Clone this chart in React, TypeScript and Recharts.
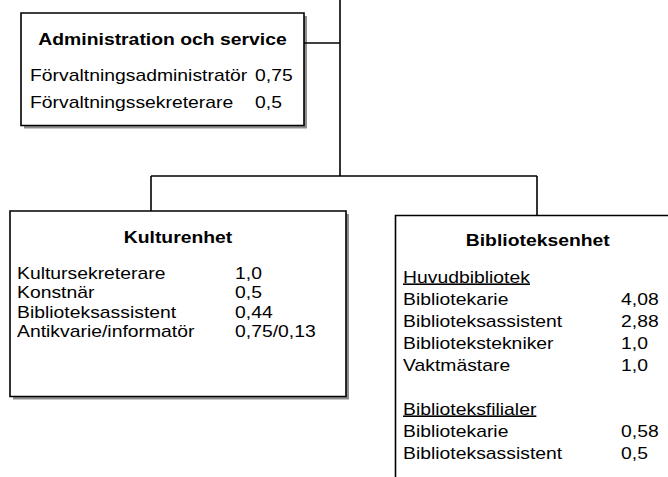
import React from "react";
import {
  ComposedChart,
  XAxis,
  YAxis,
  ReferenceArea,
  ReferenceLine,
} from "recharts";

// units and their staffing (FTE)
const adminTitle = "Administration och service";
const adminRoles = ["Förvaltningsadministratör", "Förvaltningssekreterare"];
const adminFte = ["0,75", "0,5"];

const kulturTitle = "Kulturenhet";
const kulturRoles = [
  "Kultursekreterare",
  "Konstnär",
  "Biblioteksassistent",
  "Antikvarie/informatör",
];
const kulturFte = ["1,0", "0,5", "0,44", "0,75/0,13"];

const biblioTitle = "Biblioteksenhet";
const huvudHeading = "Huvudbibliotek";
const huvudRoles = [
  "Bibliotekarie",
  "Biblioteksassistent",
  "Bibliotekstekniker",
  "Vaktmästare",
];
const huvudFte = ["4,08", "2,88", "1,0", "1,0"];
const filialHeading = "Biblioteksfilialer";
const filialRoles = ["Bibliotekarie", "Biblioteksassistent"];
const filialFte = ["0,58", "0,5"];

// layout (chart units == pixels)
const W = 668;
const H = 477;
const SX = 1.21;
const FONT = "'Liberation Sans', Arial, Helvetica, sans-serif";
const SHADOW = 3;

type Row = { label: string; value?: string; heading?: boolean };

const T = ({
  x,
  y,
  text,
  bold,
  anchor,
  underline,
}: {
  x: number;
  y: number;
  text: string;
  bold?: boolean;
  anchor?: "start" | "middle" | "end";
  underline?: boolean;
}) => (
  <text
    transform={`translate(${x},${y}) scale(${SX},1)`}
    textAnchor={anchor || "start"}
    fontFamily={FONT}
    fontSize={16}
    fontWeight={bold ? "bold" : "normal"}
    textDecoration={underline ? "underline" : undefined}
    fill="#000"
  >
    {text}
  </text>
);

const boxLabel =
  (
    title: string,
    rows: Row[],
    o: { titleY: number; rowY: number; step: number; pad: number; valX: number }
  ) =>
  (props: any) => {
    const vb = props.viewBox || {};
    const x = vb.x || 0;
    const y = vb.y || 0;
    const w = vb.width || 0;
    return (
      <g>
        <T x={x + w / 2} y={y + o.titleY} text={title} bold anchor="middle" />
        {rows.map((r, i) =>
          r.label === "" ? null : (
            <g key={i}>
              <T
                x={x + o.pad}
                y={y + o.rowY + i * o.step}
                text={r.label}
                underline={r.heading}
              />
              {r.value && (
                <T x={x + o.valX} y={y + o.rowY + i * o.step} text={r.value} />
              )}
            </g>
          )
        )}
      </g>
    );
  };

const adminRows: Row[] = adminRoles.map((r, i) => ({ label: r, value: adminFte[i] }));
const kulturRows: Row[] = kulturRoles.map((r, i) => ({ label: r, value: kulturFte[i] }));
const biblioRows: Row[] = [
  { label: huvudHeading, heading: true },
  ...huvudRoles.map((r, i) => ({ label: r, value: huvudFte[i] })),
  { label: "" },
  { label: filialHeading, heading: true },
  ...filialRoles.map((r, i) => ({ label: r, value: filialFte[i] })),
];

const boxes = [
  {
    key: "admin",
    x1: 21,
    x2: 304,
    y1: 13,
    y2: 125.5,
    shadow: true,
    label: boxLabel(adminTitle, adminRows, { titleY: 31.5, rowY: 68, step: 27, pad: 9, valX: 234 }),
  },
  {
    key: "kultur",
    x1: 10,
    x2: 346,
    y1: 211,
    y2: 396.5,
    shadow: true,
    label: boxLabel(kulturTitle, kulturRows, { titleY: 31.5, rowY: 67.5, step: 19.5, pad: 7, valX: 225 }),
  },
  {
    key: "biblio",
    x1: 395.5,
    x2: 680,
    y1: 215.5,
    y2: 500,
    shadow: false,
    label: boxLabel(biblioTitle, biblioRows, { titleY: 30, rowY: 67, step: 22, pad: 7.5, valX: 225.5 }),
  },
];

const connectors = [
  [{ x: 340, y: 0 }, { x: 340, y: 176 }],
  [{ x: 304, y: 43 }, { x: 340, y: 43 }],
  [{ x: 151, y: 176 }, { x: 537, y: 176 }],
  [{ x: 151, y: 176 }, { x: 151, y: 211 }],
  [{ x: 537, y: 176 }, { x: 537, y: 215.5 }],
];

export default function App() {
  return (
    <div style={{ position: "absolute", left: 0, top: 0, background: "#fff" }}>
      <ComposedChart
        width={W}
        height={H}
        data={[]}
        margin={{ top: 0, right: 0, bottom: 0, left: 0 }}
      >
        <XAxis type="number" dataKey="x" domain={[0, W]} hide allowDataOverflow />
        <YAxis type="number" dataKey="y" domain={[0, H]} hide reversed allowDataOverflow />
        {connectors.map((s, i) => (
          <ReferenceLine
            key={"c" + i}
            segment={s}
            stroke="#000"
            strokeWidth={1.6}
            ifOverflow="visible"
          />
        ))}
        {boxes
          .filter((b) => b.shadow)
          .map((b) => (
            <ReferenceArea
              key={b.key + "s"}
              x1={b.x1 + SHADOW}
              x2={b.x2 + SHADOW}
              y1={b.y1 + SHADOW}
              y2={b.y2 + SHADOW}
              fill="#8f8f8f"
              fillOpacity={1}
              stroke="none"
              ifOverflow="visible"
            />
          ))}
        {boxes.map((b) => (
          <ReferenceArea
            key={b.key}
            x1={b.x1}
            x2={b.x2}
            y1={b.y1}
            y2={b.y2}
            fill="#fff"
            fillOpacity={1}
            stroke="#000"
            strokeWidth={1.6}
            ifOverflow="visible"
            label={b.label}
          />
        ))}
      </ComposedChart>
    </div>
  );
}
